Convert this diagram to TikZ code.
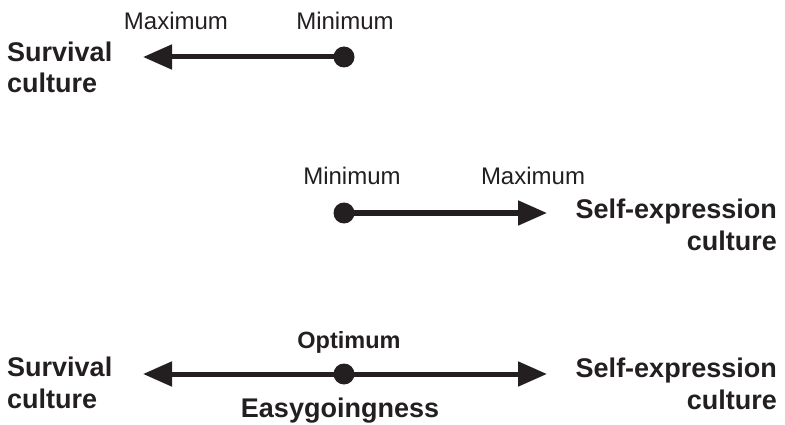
\documentclass[tikz,border=0pt]{standalone}
\usepackage{fontspec}
\setmainfont{Liberation Sans}
\usetikzlibrary{arrows.meta}
\definecolor{ink}{HTML}{231F20}
\begin{document}
\begin{tikzpicture}[x=1pt,y=-1pt,
  big/.style={font=\fontsize{27}{31.5}\selectfont\bfseries, inner sep=0pt, text=ink},
  small/.style={font=\fontsize{24}{28}\selectfont, inner sep=0pt, text=ink, anchor=base},
  opt/.style={font=\fontsize{23.5}{28}\selectfont\bfseries, inner sep=0pt, text=ink, anchor=base},
  dotnode/.style={circle, fill=ink, minimum size=21pt, inner sep=0pt},
  axis/.style={line width=5pt, draw=ink, -{Triangle[length=29pt,width=24pt]}}
]
\useasboundingbox (0,0) rectangle (785,425);

% top row
\node[big, anchor=base west, align=left] (surv1) at (7,93) {Survival\\culture};
\node[small] (max1) at (176,30) {Maximum};
\node[small] (min1) at (345,30) {Minimum};
\coordinate (tip1) at (143,57);
\node[dotnode] (dot1) at (344,57) {};
\draw[axis] (dot1.center) -- (tip1);

% middle row
\node[small] (min2) at (352,185) {Minimum};
\node[small] (max2) at (533,185) {Maximum};
\node[big, anchor=base east, align=right] (self2) at (777,250) {Self-expression\\culture};
\coordinate (tip2) at (547,213);
\node[dotnode] (dot2) at (344,213) {};
\draw[axis] (dot2.center) -- (tip2);

% bottom row
\node[big, anchor=base west, align=left] (surv3) at (7,408) {Survival\\culture};
\node[big, anchor=base east, align=right] (self3) at (777,409) {Self-expression\\culture};
\node[opt] (opt3) at (349,348) {Optimum};
\node[big, anchor=base] (easy3) at (340,417) {Easygoingness};
\coordinate (tipL) at (143,374);
\coordinate (tipR) at (547,374);
\node[dotnode] (dot3) at (344,374) {};
\draw[axis] (dot3.center) -- (tipL);
\draw[axis] (dot3.center) -- (tipR);
\end{tikzpicture}
\end{document}
